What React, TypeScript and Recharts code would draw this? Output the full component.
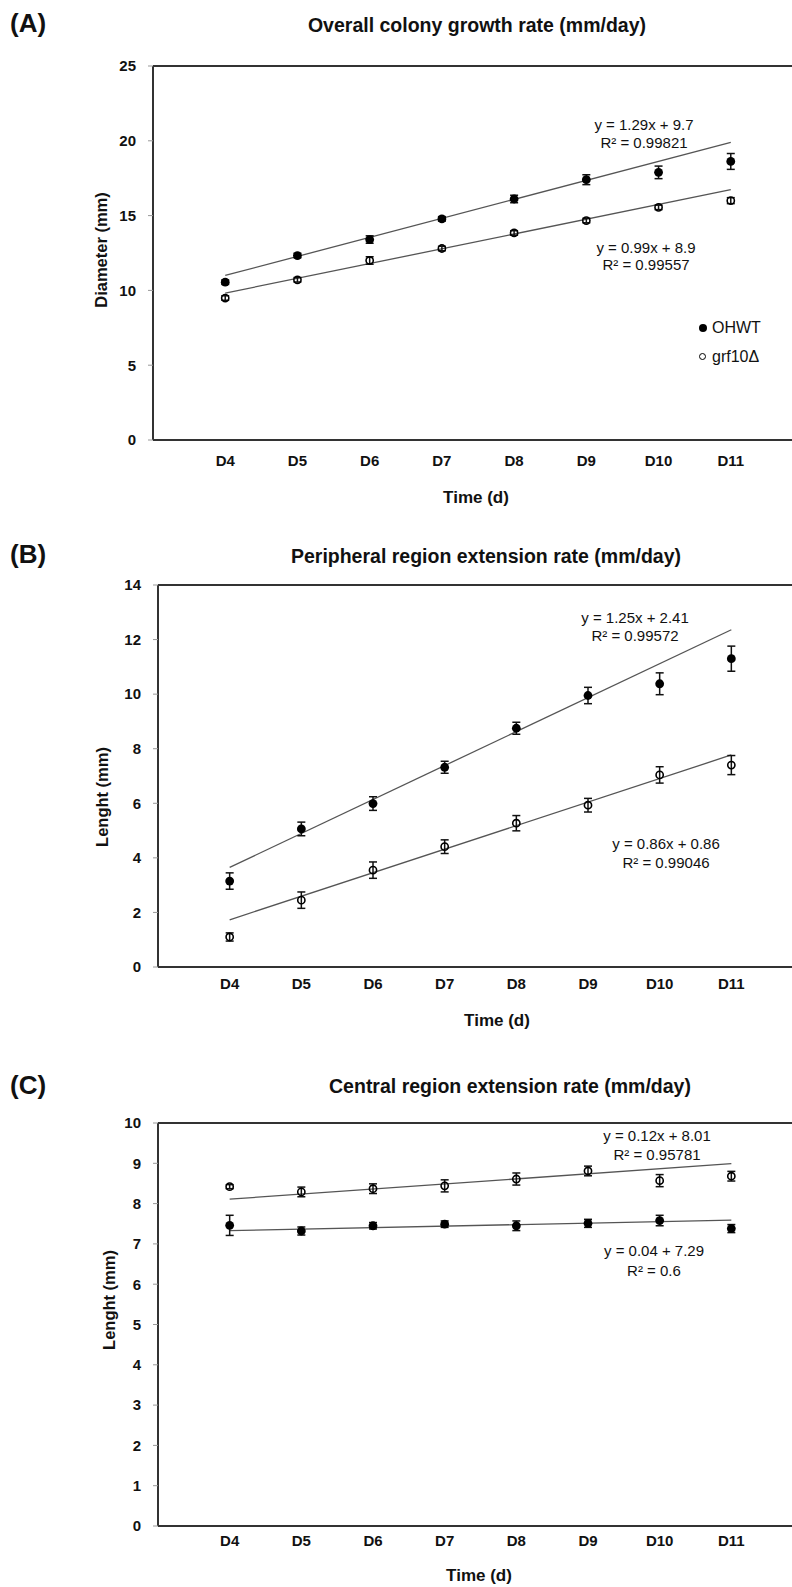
import React from "react";
import {
  ComposedChart,
  Line,
  Scatter,
  ErrorBar,
  XAxis,
  YAxis,
  ReferenceLine,
} from "recharts";

const FONT = '"Liberation Sans", Arial, sans-serif';

// days on the x axis (D4..D11)
const days = [4, 5, 6, 7, 8, 9, 10, 11];
const trendDays = [4, 11];

// (A) overall colony diameter, mm
const ohwtA = [10.55, 12.33, 13.4, 14.78, 16.11, 17.4, 17.89, 18.62];
const ohwtAErr = [0.15, 0.15, 0.25, 0.15, 0.25, 0.33, 0.42, 0.53];
const grfA = [9.49, 10.71, 12.0, 12.8, 13.84, 14.67, 15.55, 16.0];
const grfAErr = [0.15, 0.15, 0.25, 0.15, 0.15, 0.15, 0.15, 0.2];
const ohwtATrend = [11.0, 19.9];
const grfATrend = [9.82, 16.73];

// (B) peripheral region length, mm
const ohwtB = [3.15, 5.06, 5.99, 7.32, 8.75, 9.95, 10.38, 11.3];
const ohwtBErr = [0.3, 0.25, 0.25, 0.22, 0.22, 0.3, 0.4, 0.46];
const grfB = [1.1, 2.45, 3.55, 4.41, 5.27, 5.93, 7.04, 7.4];
const grfBErr = [0.15, 0.3, 0.3, 0.25, 0.28, 0.25, 0.3, 0.35];
const ohwtBTrend = [3.65, 12.36];
const grfBTrend = [1.73, 7.77];

// (C) central region length, mm
const ohwtC = [7.46, 7.32, 7.45, 7.49, 7.45, 7.51, 7.58, 7.38];
const ohwtCErr = [0.25, 0.1, 0.08, 0.08, 0.12, 0.1, 0.13, 0.1];
const grfC = [8.42, 8.29, 8.37, 8.44, 8.61, 8.81, 8.57, 8.68];
const grfCErr = [0.05, 0.12, 0.12, 0.15, 0.15, 0.12, 0.15, 0.12];
const ohwtCTrend = [7.33, 7.59];
const grfCTrend = [8.11, 8.99];

const ticksA = [0, 5, 10, 15, 20, 25];
const ticksB = [0, 2, 4, 6, 8, 10, 12, 14];
const ticksC = [0, 1, 2, 3, 4, 5, 6, 7, 8, 9, 10];

const pts = (vals: number[], errs: number[]) =>
  days.map((d, i) => ({ day: d, v: vals[i], err: errs[i] }));
const line = (vals: number[]) => trendDays.map((d, i) => ({ day: d, v: vals[i] }));

const Filled = (p: any) => <circle cx={p.cx} cy={p.cy} r={4.4} fill="#000" />;
const Open = (p: any) => (
  <circle cx={p.cx} cy={p.cy} r={3.6} fill="none" stroke="#000" strokeWidth={1.6} />
);

type PanelProps = {
  top: number;
  height: number;
  marginTop: number;
  marginLeft: number;
  yTicks: number[];
  tickMargin: number;
  ohwt: number[];
  ohwtErr: number[];
  grf: number[];
  grfErr: number[];
  ohwtTrend: number[];
  grfTrend: number[];
};

function Panel(p: PanelProps) {
  const yMax = p.yTicks[p.yTicks.length - 1];
  return (
    <div style={{ position: "absolute", left: 0, top: p.top }}>
      <ComposedChart
        width={830}
        height={p.height}
        margin={{ top: p.marginTop, right: 27, bottom: 0, left: p.marginLeft }}
      >
        <XAxis
          type="number"
          dataKey="day"
          domain={[3, 12]}
          ticks={days}
          interval={0}
          tickFormatter={(v: number) => `D${v}`}
          height={30}
          tickLine={false}
          tickMargin={p.tickMargin}
          axisLine={{ stroke: "#333", strokeWidth: 2 }}
          tick={{ fontSize: 15, fontWeight: "bold", fill: "#111", fontFamily: FONT }}
        />
        <YAxis
          type="number"
          dataKey="v"
          domain={[0, yMax]}
          ticks={p.yTicks}
          interval={0}
          allowDataOverflow
          width={60}
          tickSize={5}
          tickMargin={12}
          tickLine={{ stroke: "#999" }}
          axisLine={{ stroke: "#333", strokeWidth: 2 }}
          tick={{ fontSize: 15, fontWeight: "bold", fill: "#111", fontFamily: FONT }}
        />
        <ReferenceLine y={yMax} stroke="#333" strokeWidth={2} />
        <Line
          data={line(p.ohwtTrend)}
          dataKey="v"
          type="linear"
          stroke="#555"
          strokeWidth={1.3}
          dot={false}
          activeDot={false}
          isAnimationActive={false}
        />
        <Line
          data={line(p.grfTrend)}
          dataKey="v"
          type="linear"
          stroke="#555"
          strokeWidth={1.3}
          dot={false}
          activeDot={false}
          isAnimationActive={false}
        />
        <Scatter data={pts(p.ohwt, p.ohwtErr)} dataKey="v" shape={Filled} isAnimationActive={false}>
          <ErrorBar dataKey="err" direction="y" width={4} stroke="#111" strokeWidth={1.5} />
        </Scatter>
        <Scatter data={pts(p.grf, p.grfErr)} dataKey="v" shape={Open} isAnimationActive={false}>
          <ErrorBar dataKey="err" direction="y" width={4} stroke="#111" strokeWidth={1.5} />
        </Scatter>
      </ComposedChart>
    </div>
  );
}

function T({
  x,
  y,
  size,
  bold,
  rotate,
  left,
  children,
}: {
  x: number;
  y: number;
  size: number;
  bold?: boolean;
  rotate?: boolean;
  left?: boolean;
  children: React.ReactNode;
}) {
  return (
    <div
      style={{
        position: "absolute",
        left: x,
        top: y,
        transform: `translate(${left ? "0" : "-50%"},-50%)${rotate ? " rotate(-90deg)" : ""}`,
        whiteSpace: "nowrap",
        lineHeight: 1,
        fontSize: size,
        fontWeight: bold ? "bold" : "normal",
        fontFamily: FONT,
        color: "#111",
      }}
    >
      {children}
    </div>
  );
}

export default function App() {
  return (
    <div
      style={{
        position: "absolute",
        left: 0,
        top: 0,
        width: 792,
        height: 1587,
        overflow: "hidden",
        background: "#fff",
      }}
    >
      <Panel
        top={0}
        height={470}
        marginTop={66}
        marginLeft={93}
        yTicks={ticksA}
        tickMargin={9}
        ohwt={ohwtA}
        ohwtErr={ohwtAErr}
        grf={grfA}
        grfErr={grfAErr}
        ohwtTrend={ohwtATrend}
        grfTrend={grfATrend}
      />
      <Panel
        top={540}
        height={457}
        marginTop={45}
        marginLeft={98}
        yTicks={ticksB}
        tickMargin={5}
        ohwt={ohwtB}
        ohwtErr={ohwtBErr}
        grf={grfB}
        grfErr={grfBErr}
        ohwtTrend={ohwtBTrend}
        grfTrend={grfBTrend}
      />
      <Panel
        top={1090}
        height={466}
        marginTop={33}
        marginLeft={98}
        yTicks={ticksC}
        tickMargin={3}
        ohwt={ohwtC}
        ohwtErr={ohwtCErr}
        grf={grfC}
        grfErr={grfCErr}
        ohwtTrend={ohwtCTrend}
        grfTrend={grfCTrend}
      />

      {/* (A) */}
      <T x={10} y={23} size={26} bold left>(A)</T>
      <T x={477} y={26} size={19.5} bold>Overall colony growth rate (mm/day)</T>
      <T x={101} y={250} size={16.5} bold rotate>Diameter (mm)</T>
      <T x={476} y={497} size={17} bold>Time (d)</T>
      <T x={644} y={124} size={15}>y = 1.29x + 9.7</T>
      <T x={644} y={142} size={15}>R² = 0.99821</T>
      <T x={646} y={247} size={15}>y = 0.99x + 8.9</T>
      <T x={646} y={264} size={15}>R² = 0.99557</T>
      <div style={{ position: "absolute", left: 699, top: 324, width: 8, height: 8, borderRadius: 4, background: "#000" }} />
      <T x={712} y={328} size={16} left>OHWT</T>
      <div style={{ position: "absolute", left: 699, top: 353, width: 5, height: 5, borderRadius: 4, border: "1.5px solid #000" }} />
      <T x={712} y={357} size={16} left>grf10Δ</T>

      {/* (B) */}
      <T x={10} y={554} size={26} bold left>(B)</T>
      <T x={486} y={557} size={19.5} bold>Peripheral region extension rate (mm/day)</T>
      <T x={102} y={797} size={16.5} bold rotate>Lenght (mm)</T>
      <T x={497} y={1020} size={17} bold>Time (d)</T>
      <T x={635} y={617} size={15}>y = 1.25x + 2.41</T>
      <T x={635} y={635} size={15}>R² = 0.99572</T>
      <T x={666} y={843} size={15}>y = 0.86x + 0.86</T>
      <T x={666} y={862} size={15}>R² = 0.99046</T>

      {/* (C) */}
      <T x={10} y={1085} size={26} bold left>(C)</T>
      <T x={510} y={1087} size={19.5} bold>Central region extension rate (mm/day)</T>
      <T x={109} y={1300} size={16.5} bold rotate>Lenght (mm)</T>
      <T x={479} y={1575} size={17} bold>Time (d)</T>
      <T x={657} y={1135} size={15}>y = 0.12x + 8.01</T>
      <T x={657} y={1154} size={15}>R² = 0.95781</T>
      <T x={654} y={1250} size={15}>y = 0.04 + 7.29</T>
      <T x={654} y={1270} size={15}>R² = 0.6</T>
    </div>
  );
}
